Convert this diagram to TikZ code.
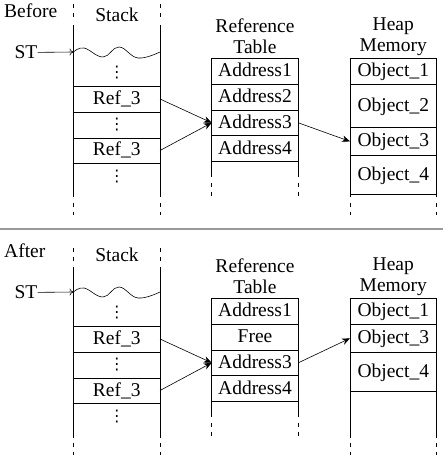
\documentclass[tikz,border=0pt]{standalone}
\usepackage{fontspec}
\setmainfont{Liberation Serif}
\newfontfamily\dotsfont{DejaVu Sans}
\usetikzlibrary{calc}
\usetikzlibrary{shapes,arrows,arrows.meta,positioning}
\newcommand{\stackdots}{{\dotsfont\fontsize{16}{16}\selectfont ⋮}}

\begin{document}
\begin{tikzpicture}[x=1pt,y=-1pt,
     font=\fontsize{19.5}{21}\selectfont,
     cell/.style = {draw, rectangle, minimum width=86.6pt, inner sep=0pt, outer sep=0pt,
      text height=13.5pt, text depth=2.5pt, line width=0.7pt},
     title/.style = {align=center, inner sep=0pt, text depth=0pt},
     tag/.style = {inner sep=0pt},
     wall/.style = {draw, line width=0.7pt},
     gap/.style = {draw, line width=0.7pt, dash pattern=on 4pt off 5pt},
     arrow/.style = {draw, line width=0.6pt, -{Stealth[length=8pt,width=6.5pt]}},
     pointer/.style = {draw, line width=0.6pt, -{To[length=4pt,width=7pt]}},
     sep/.style = {draw, black!40, line width=2pt}
    ]
    \useasboundingbox (0,0) rectangle (443,457);

    % before
    \node [tag, anchor=west] (before) at (4,11) {Before};
    \node [tag] (stacka) at (117,14.5) {Stack};
    \node [tag] (sta) at (26,52.5) {ST};
    \coordinate (topa) at (73.5,52);
    \node [cell, minimum width=86.5pt, minimum height=26pt] (sa1) at (116.75,99) {Ref\_3};
    \node [cell, minimum width=86.5pt, minimum height=25pt] (sa2) at (116.75,150.5) {Ref\_3};
    \node [tag] (da1) at (116.75,73) {\stackdots};
    \node [tag] (da2) at (116.75,125) {\stackdots};
    \node [tag] (da3) at (116.75,177) {\stackdots};

    \node [cell, minimum height=25.8pt] (ta1) at (255,71.2) {Address1};
    \node [cell, minimum height=25.8pt, below=0pt of ta1] (ta2) {Address2};
    \node [cell, minimum height=25.8pt, below=0pt of ta2] (ta3) {Address3};
    \node [cell, minimum height=25.8pt, below=0pt of ta3] (ta4) {Address4};
    \node [title, above=5pt of ta1] (tha) {Reference\\Table};

    \node [cell, minimum height=25.7pt] (ha1) at (393.3,71.2) {Object\_1};
    \node [cell, minimum height=43.7pt, below=0pt of ha1] (ha2) {Object\_2};
    \node [cell, minimum height=27.3pt, below=0pt of ha2] (ha3) {Object\_3};
    \node [cell, minimum height=39pt, below=0pt of ha3] (ha4) {Object\_4};
    \node [title, above=6.6pt of ha1] (hha) {Heap\\Memory};

    \draw[gap] (73.5,4) -- (73.5,18);
    \draw[wall] (73.5,25) -- (73.5,197);
    \draw[gap] (73.5,203) -- (73.5,215);
    \draw[gap] (160,4) -- (160,18);
    \draw[wall] (160,25) -- (160,197);
    \draw[gap] (160,203) -- (160,215);
    \draw[wall] (ta4.south west) -- ++(0,15.3);
    \draw[gap] ($(ta4.south west)+(0,21.3)$) -- ++(0,13);
    \draw[wall] (ta4.south east) -- ++(0,15.3);
    \draw[gap] ($(ta4.south east)+(0,21.3)$) -- ++(0,13);
    \draw[wall] (ha4.south west) -- ++(0,3);
    \draw[gap] ($(ha4.south west)+(0,9)$) -- ++(0,12);
    \draw[wall] (ha4.south east) -- ++(0,3);
    \draw[gap] ($(ha4.south east)+(0,9)$) -- ++(0,12);

    \draw[line width=0.6pt] plot[smooth, tension=0.7] coordinates
      {(73.5,52) (84,48) (103,57) (119,47) (138,58) (160,52)};
    \draw[pointer] (sta) -- (topa);
    \draw[arrow] (sa1.east) -- (ta3.west);
    \draw[arrow] (sa2.east) -- (ta3.west);
    \draw[arrow] (ta3.east) -- (ha3.west);

    \draw[sep] (0,229) -- (443,229);

    % after
    \node [tag, anchor=west] (after) at (4,251) {After};
    \node [tag] (stackb) at (117,255) {Stack};
    \node [tag] (stb) at (26,292.5) {ST};
    \coordinate (topb) at (73.5,292);
    \node [cell, minimum width=86.5pt, minimum height=26pt] (sb1) at (116.75,339) {Ref\_3};
    \node [cell, minimum width=86.5pt, minimum height=25pt] (sb2) at (116.75,390.5) {Ref\_3};
    \node [tag] (db1) at (116.75,313) {\stackdots};
    \node [tag] (db2) at (116.75,365) {\stackdots};
    \node [tag] (db3) at (116.75,417) {\stackdots};

    \node [cell, minimum height=25.8pt] (tb1) at (255,311.2) {Address1};
    \node [cell, minimum height=25.8pt, below=0pt of tb1] (tb2) {Free};
    \node [cell, minimum height=25.8pt, below=0pt of tb2] (tb3) {Address3};
    \node [cell, minimum height=25.8pt, below=0pt of tb3] (tb4) {Address4};
    \node [title, above=5pt of tb1] (thb) {Reference\\Table};

    \node [cell, minimum height=26pt] (hb1) at (393.3,311.3) {Object\_1};
    \node [cell, minimum height=28pt, below=0pt of hb1] (hb2) {Object\_3};
    \node [cell, minimum height=39.4pt, below=0pt of hb2] (hb3) {Object\_4};
    \node [title, above=6.6pt of hb1] (hhb) {Heap\\Memory};

    \draw[gap] (73.5,248) -- (73.5,262);
    \draw[wall] (73.5,267) -- (73.5,438);
    \draw[gap] (73.5,443) -- (73.5,455);
    \draw[gap] (160,248) -- (160,262);
    \draw[wall] (160,267) -- (160,438);
    \draw[gap] (160,443) -- (160,455);
    \draw[wall] (tb4.south west) -- ++(0,15.3);
    \draw[gap] ($(tb4.south west)+(0,21.3)$) -- ++(0,13);
    \draw[wall] (tb4.south east) -- ++(0,15.3);
    \draw[gap] ($(tb4.south east)+(0,21.3)$) -- ++(0,13);
    \draw[wall] (hb3.south west) -- ++(0,46.5);
    \draw[gap] ($(hb3.south west)+(0,51.5)$) -- ++(0,12);
    \draw[wall] (hb3.south east) -- ++(0,46.5);
    \draw[gap] ($(hb3.south east)+(0,51.5)$) -- ++(0,12);

    \draw[line width=0.6pt] plot[smooth, tension=0.7] coordinates
      {(73.5,292) (84,288) (103,297) (119,287) (138,298) (160,292)};
    \draw[pointer] (stb) -- (topb);
    \draw[arrow] (sb1.east) -- (tb3.west);
    \draw[arrow] (sb2.east) -- (tb3.west);
    \draw[arrow] (tb3.east) -- (hb2.west);
\end{tikzpicture}
\end{document}
